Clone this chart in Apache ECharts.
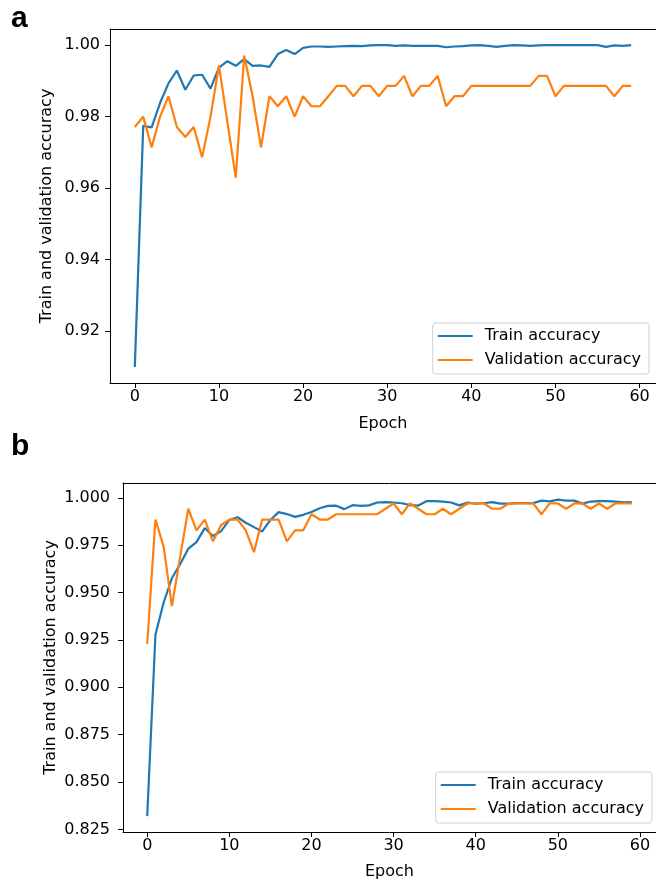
<!DOCTYPE html>
<html>
<head>
<meta charset="utf-8">
<script src="https://cdn.jsdelivr.net/npm/echarts@6/dist/echarts.min.js"></script>
<style>
  html, body { margin: 0; padding: 0; background: #fff; }
  #chart { width: 656px; height: 881px; }
</style>
</head>
<body>
<div id="chart"></div>
<script>
// epochs 0..59
const epochs = [
  0, 1, 2, 3, 4, 5, 6, 7, 8, 9, 10, 11, 12, 13, 14, 15, 16, 17, 18, 19,
  20, 21, 22, 23, 24, 25, 26, 27, 28, 29, 30, 31, 32, 33, 34, 35, 36, 37, 38, 39,
  40, 41, 42, 43, 44, 45, 46, 47, 48, 49, 50, 51, 52, 53, 54, 55, 56, 57, 58, 59
];

// panel a
const trainA = [
  0.9100, 0.9774, 0.9770, 0.9838, 0.9893, 0.9929, 0.9875, 0.9915, 0.9917, 0.9878,
  0.9937, 0.9955, 0.9942, 0.9961, 0.9942, 0.9943, 0.9939, 0.9975, 0.9986, 0.9975,
  0.9992, 0.9996, 0.9996, 0.9995, 0.9996, 0.9997, 0.9998, 0.9997, 0.9999, 1.0000,
  1.0000, 0.9998, 0.9999, 0.9998, 0.9998, 0.9998, 0.9998, 0.9994, 0.9996, 0.9997,
  0.9999, 1.0000, 0.9998, 0.9995, 0.9998, 1.0000, 0.9999, 0.9998, 0.9999, 1.0000,
  1.0000, 1.0000, 1.0000, 1.0000, 1.0000, 1.0000, 0.9995, 0.9999, 0.9998, 1.0000
];
const valA = [
  0.9771, 0.9800, 0.9714, 0.9800, 0.9857, 0.9771, 0.9743, 0.9771, 0.9686, 0.9800,
  0.9943, 0.9786, 0.9629, 0.9971, 0.9857, 0.9714, 0.9857, 0.9829, 0.9857, 0.9800,
  0.9857, 0.9829, 0.9829, 0.9857, 0.9886, 0.9886, 0.9857, 0.9886, 0.9886, 0.9857,
  0.9886, 0.9886, 0.9914, 0.9857, 0.9886, 0.9886, 0.9914, 0.9829, 0.9857, 0.9857,
  0.9886, 0.9886, 0.9886, 0.9886, 0.9886, 0.9886, 0.9886, 0.9886, 0.9914, 0.9914,
  0.9857, 0.9886, 0.9886, 0.9886, 0.9886, 0.9886, 0.9886, 0.9857, 0.9886, 0.9886
];

// panel b
const trainB = [
  0.8320, 0.9278, 0.9448, 0.9576, 0.9650, 0.9732, 0.9767, 0.9841, 0.9799, 0.9825,
  0.9884, 0.9898, 0.9869, 0.9846, 0.9823, 0.9884, 0.9925, 0.9915, 0.9900, 0.9911,
  0.9926, 0.9946, 0.9958, 0.9959, 0.9941, 0.9962, 0.9958, 0.9961, 0.9976, 0.9978,
  0.9976, 0.9972, 0.9962, 0.9960, 0.9983, 0.9983, 0.9981, 0.9976, 0.9961, 0.9976,
  0.9970, 0.9972, 0.9978, 0.9970, 0.9970, 0.9973, 0.9973, 0.9973, 0.9986, 0.9982,
  0.9991, 0.9986, 0.9986, 0.9970, 0.9981, 0.9983, 0.9983, 0.9981, 0.9977, 0.9978
];
const valB = [
  0.9229, 0.9886, 0.9743, 0.9429, 0.9686, 0.9943, 0.9829, 0.9886, 0.9771, 0.9857,
  0.9886, 0.9886, 0.9829, 0.9714, 0.9886, 0.9886, 0.9886, 0.9771, 0.9829, 0.9829,
  0.9914, 0.9886, 0.9886, 0.9914, 0.9914, 0.9914, 0.9914, 0.9914, 0.9914, 0.9943,
  0.9971, 0.9914, 0.9971, 0.9943, 0.9914, 0.9914, 0.9943, 0.9914, 0.9943, 0.9971,
  0.9971, 0.9971, 0.9943, 0.9943, 0.9971, 0.9971, 0.9971, 0.9971, 0.9914, 0.9971,
  0.9971, 0.9943, 0.9971, 0.9971, 0.9943, 0.9971, 0.9943, 0.9971, 0.9971, 0.9971
];

const xTicks = [0, 10, 20, 30, 40, 50, 60];
const yTicksA = [0.92, 0.94, 0.96, 0.98, 1.00];
const yTicksB = [0.825, 0.850, 0.875, 0.900, 0.925, 0.950, 0.975, 1.000];

const BLUE = "#1f77b4";
const ORANGE = "#ff7f0e";
const FONT = "DejaVu Sans";

function pairs(ys) {
  return epochs.map(function (e, i) { return [e, ys[i]]; });
}

function xAxisOf(grid, gap) {
  return {
    type: "value",
    gridIndex: grid,
    min: -2.95,
    max: 61.95,
    name: "Epoch",
    nameLocation: "middle",
    nameGap: gap,
    nameTextStyle: { fontFamily: FONT, fontSize: 16, color: "#000" },
    axisLine: { show: true, onZero: false, lineStyle: { color: "#000", width: 1 } },
    axisTick: { show: true, length: 5, customValues: xTicks, lineStyle: { color: "#000" } },
    axisLabel: { customValues: xTicks, margin: 6, fontFamily: FONT, fontSize: 16, color: "#000" },
    splitLine: { show: false }
  };
}

// top spine only (the right one is cut off by the page edge)
function topSpineOf(grid) {
  return {
    type: "value",
    gridIndex: grid,
    position: "top",
    min: -2.95,
    max: 61.95,
    axisLine: { show: true, onZero: false, lineStyle: { color: "#000", width: 1 } },
    axisTick: { show: false },
    axisLabel: { show: false },
    splitLine: { show: false }
  };
}

function yAxisOf(grid, min, max, ticks, digits, gap, margin) {
  return {
    type: "value",
    gridIndex: grid,
    min: min,
    max: max,
    name: "Train and validation accuracy",
    nameLocation: "middle",
    nameGap: gap,
    nameRotate: 90,
    nameMoveOverlap: false,
    nameTextStyle: { fontFamily: FONT, fontSize: 16, color: "#000" },
    axisLine: { show: true, onZero: false, lineStyle: { color: "#000", width: 1 } },
    axisTick: { show: true, length: 5, customValues: ticks, lineStyle: { color: "#000" } },
    axisLabel: {
      customValues: ticks,
      margin: margin,
      fontFamily: FONT,
      fontSize: 16,
      color: "#000",
      formatter: function (v) { return v.toFixed(digits); }
    },
    splitLine: { show: false }
  };
}

function legendOf(right, top) {
  return {
    orient: "vertical",
    right: right,
    top: top,
    data: ["Train accuracy", "Validation accuracy"],
    icon: "rect",
    itemWidth: 35,
    itemHeight: 2,
    itemGap: 8,
    padding: [5, 8, 6, 5],
    backgroundColor: "#fff",
    borderColor: "#d0d0d0",
    borderWidth: 1,
    borderRadius: 3,
    textStyle: { fontFamily: FONT, fontSize: 16, color: "#000", lineHeight: 16, padding: [0, 0, 0, 7] }
  };
}

function lineSeries(name, ys, idx, color) {
  return {
    name: name,
    type: "line",
    xAxisIndex: idx,
    yAxisIndex: idx,
    data: pairs(ys),
    symbol: "none",
    showSymbol: false,
    color: color,
    lineStyle: { color: color, width: 2.2 }
  };
}

const chart = echarts.init(document.getElementById("chart"), null, { renderer: "canvas" });

let option = {
  animation: false,
  backgroundColor: "#fff",
  title: [
    { text: "a", left: 11, top: 4, padding: 0, textStyle: { fontFamily: "Liberation Sans", fontSize: 30, fontWeight: "bold", color: "#000" } },
    { text: "b", left: 11, top: 432, padding: 0, textStyle: { fontFamily: "Liberation Sans", fontSize: 30, fontWeight: "bold", color: "#000" } }
  ],
  grid: [
    { left: 110, top: 29, width: 548, height: 354, containLabel: false },
    { left: 123, top: 483, width: 538, height: 349, containLabel: false }
  ],
  legend: [legendOf(7, 323), legendOf(4, 772)],
  xAxis: [xAxisOf(0, 33), xAxisOf(1, 32), topSpineOf(0), topSpineOf(1)],
  yAxis: [
    yAxisOf(0, 0.9055, 1.0045, yTicksA, 2, 55, 10),
    yAxisOf(1, 0.8236, 1.0079, yTicksB, 3, 64, 13)
  ],
  series: [
    lineSeries("Train accuracy", trainA, 0, BLUE),
    lineSeries("Validation accuracy", valA, 0, ORANGE),
    lineSeries("Train accuracy", trainB, 1, BLUE),
    lineSeries("Validation accuracy", valB, 1, ORANGE)
  ]
};

chart.setOption(option);
</script>
</body>
</html>
